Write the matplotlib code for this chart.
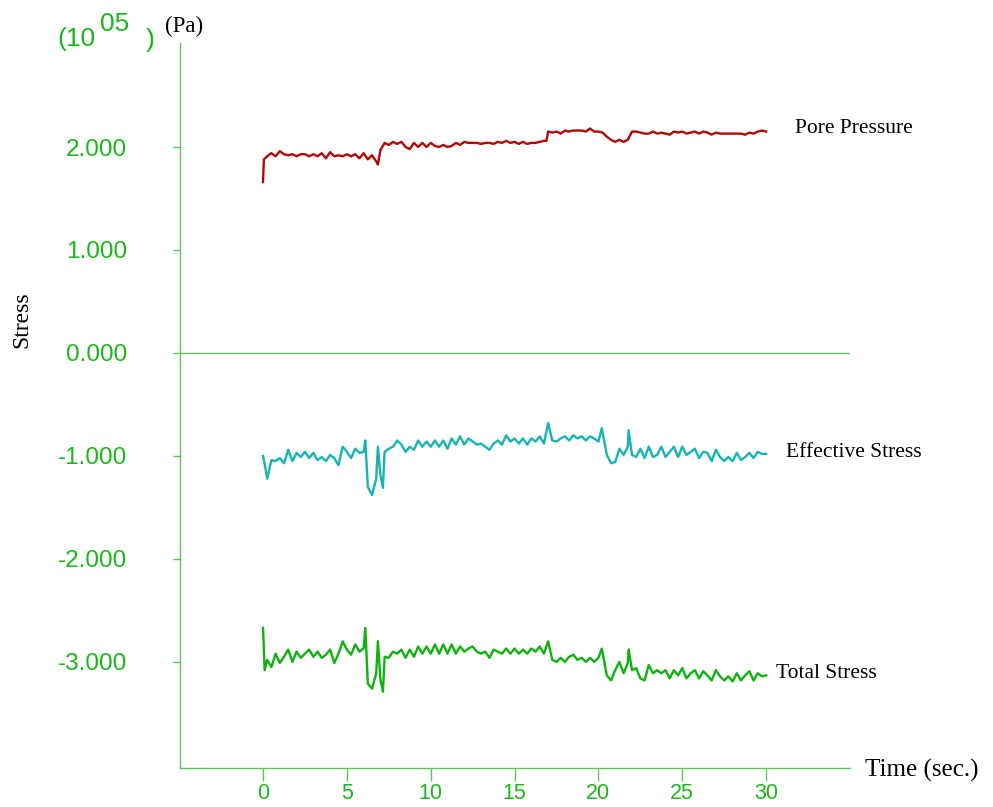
import matplotlib
matplotlib.use("Agg")
import matplotlib.pyplot as plt

# ---------------------------------------------------------------------------
# Data (stress in units of 10^5 Pa, time in seconds)
# ---------------------------------------------------------------------------
pore_time = [
    0.0, 0.05, 0.25, 0.5, 0.75,
    1.0, 1.25, 1.5, 1.75,
    2.0, 2.25, 2.5, 2.75,
    3.0, 3.25, 3.5, 3.75,
    4.0, 4.25, 4.5, 4.75,
    5.0, 5.25, 5.5, 5.75,
    6.0, 6.25, 6.5, 6.75, 6.85,
    7.0, 7.25, 7.5, 7.75,
    8.0, 8.25, 8.5, 8.75,
    9.0, 9.25, 9.5, 9.75,
    10.0, 10.25, 10.5, 10.75,
    11.0, 11.25, 11.5, 11.75,
    12.0, 12.25, 12.5, 12.75,
    13.0, 13.25, 13.5, 13.75,
    14.0, 14.25, 14.5, 14.75,
    15.0, 15.25, 15.5, 15.75,
    16.0, 16.25, 16.5, 16.75, 16.9,
    17.0, 17.25, 17.5, 17.75,
    18.0, 18.25, 18.5, 18.75,
    19.0, 19.25, 19.5, 19.75,
    20.0, 20.25, 20.5, 20.75,
    21.0, 21.25, 21.5, 21.75,
    22.0, 22.25, 22.5, 22.75,
    23.0, 23.25, 23.5, 23.75,
    24.0, 24.25, 24.5, 24.75,
    25.0, 25.25, 25.5, 25.75,
    26.0, 26.25, 26.5, 26.75,
    27.0, 27.25, 27.5, 27.75,
    28.0, 28.25, 28.5, 28.75,
    29.0, 29.25, 29.5, 29.75,
    30.0,
]
pore_pressure = [
    1.66, 1.88, 1.91, 1.94, 1.91,
    1.96, 1.93, 1.92, 1.93,
    1.91, 1.93, 1.93, 1.91,
    1.93, 1.91, 1.94, 1.89,
    1.95, 1.91, 1.92, 1.91,
    1.93, 1.91, 1.93, 1.89,
    1.94, 1.88, 1.92, 1.86, 1.83,
    1.97, 2.04, 2.02, 2.05,
    2.03, 2.05, 2.00, 1.98,
    2.04, 2.00, 2.04, 2.00,
    2.04, 2.01, 2.00, 2.02,
    2.00, 2.01, 2.04, 2.02,
    2.05, 2.04, 2.04, 2.04,
    2.03, 2.04, 2.04, 2.03,
    2.05, 2.04, 2.06, 2.04,
    2.05, 2.03, 2.05, 2.03,
    2.04, 2.04, 2.05, 2.06, 2.06,
    2.15, 2.14, 2.15, 2.13,
    2.16, 2.15, 2.16, 2.16,
    2.16, 2.15, 2.18, 2.15,
    2.15, 2.14, 2.10, 2.07,
    2.05, 2.07, 2.05, 2.07,
    2.15, 2.15, 2.14, 2.13,
    2.13, 2.15, 2.13, 2.14,
    2.13, 2.12, 2.15, 2.14,
    2.15, 2.13, 2.14, 2.15,
    2.13, 2.15, 2.14, 2.12,
    2.14, 2.13, 2.13, 2.13,
    2.13, 2.13, 2.13, 2.12,
    2.14, 2.13, 2.15, 2.16,
    2.15,
]

stress_time = [
    0.0, 0.1, 0.25, 0.5, 0.75,
    1.0, 1.25, 1.5, 1.75,
    2.0, 2.25, 2.5, 2.75,
    3.0, 3.25, 3.5, 3.75,
    4.0, 4.25, 4.5, 4.75,
    5.0, 5.25, 5.5, 5.75,
    6.0, 6.1, 6.25, 6.5, 6.75, 6.85,
    7.0, 7.15, 7.25, 7.5, 7.75,
    8.0, 8.25, 8.5, 8.75,
    9.0, 9.25, 9.5, 9.75,
    10.0, 10.25, 10.5, 10.75,
    11.0, 11.25, 11.5, 11.75,
    12.0, 12.25, 12.5, 12.75,
    13.0, 13.25, 13.5, 13.75,
    14.0, 14.25, 14.5, 14.75,
    15.0, 15.25, 15.5, 15.75,
    16.0, 16.25, 16.5, 16.75,
    17.0, 17.25, 17.5, 17.75,
    18.0, 18.25, 18.5, 18.75,
    19.0, 19.25, 19.5, 19.75,
    20.0, 20.2, 20.5, 20.75,
    21.0, 21.25, 21.5, 21.75, 21.8,
    22.0, 22.25, 22.5, 22.75,
    23.0, 23.25, 23.5, 23.75,
    24.0, 24.25, 24.5, 24.75,
    25.0, 25.25, 25.5, 25.75,
    26.0, 26.25, 26.5, 26.75,
    27.0, 27.25, 27.5, 27.75,
    28.0, 28.25, 28.5, 28.75,
    29.0, 29.25, 29.5, 29.75,
    30.0,
]
effective_stress = [
    -1.00, -1.08, -1.22, -1.04, -1.05,
    -1.02, -1.07, -0.94, -1.05,
    -0.97, -1.01, -0.96, -1.02,
    -0.97, -1.04, -1.01, -1.05,
    -0.99, -1.02, -1.09, -0.91,
    -0.96, -1.02, -0.93, -0.97,
    -0.96, -0.85, -1.30, -1.38, -1.22, -0.91,
    -1.18, -1.31, -0.96, -0.93, -0.91,
    -0.85, -0.89, -0.96, -0.91,
    -0.94, -0.85, -0.91, -0.86,
    -0.91, -0.85, -0.91, -0.85,
    -0.93, -0.83, -0.89, -0.81,
    -0.89, -0.83, -0.86, -0.89,
    -0.88, -0.91, -0.94, -0.88,
    -0.85, -0.89, -0.80, -0.86,
    -0.83, -0.88, -0.83, -0.89,
    -0.83, -0.86, -0.81, -0.88,
    -0.68, -0.85, -0.86, -0.83,
    -0.81, -0.85, -0.80, -0.83,
    -0.81, -0.85, -0.81, -0.83,
    -0.86, -0.73, -0.99, -1.07,
    -1.06, -0.93, -0.99, -0.91, -0.75,
    -0.99, -1.01, -0.93, -1.02,
    -0.91, -1.01, -0.99, -0.91,
    -1.01, -0.96, -0.91, -1.01,
    -0.91, -0.99, -0.96, -0.93,
    -1.02, -0.96, -0.97, -1.05,
    -0.94, -1.01, -1.05, -1.01,
    -1.05, -0.97, -1.04, -1.01,
    -0.97, -1.02, -0.96, -0.98,
    -0.98,
]
total_stress = [
    -2.67, -3.08, -2.98, -3.05, -2.92,
    -3.01, -2.95, -2.88, -3.00,
    -2.90, -2.96, -2.92, -2.88,
    -2.95, -2.90, -2.96, -2.93,
    -2.88, -3.01, -2.92, -2.80,
    -2.88, -2.93, -2.83, -2.90,
    -2.87, -2.67, -3.21, -3.26, -3.11, -2.80,
    -3.17, -3.29, -2.95, -2.96, -2.90,
    -2.92, -2.88, -2.96, -2.88,
    -2.95, -2.85, -2.92, -2.85,
    -2.92, -2.83, -2.92, -2.83,
    -2.92, -2.83, -2.92, -2.85,
    -2.90, -2.87, -2.85, -2.90,
    -2.92, -2.90, -2.96, -2.88,
    -2.90, -2.92, -2.87, -2.92,
    -2.87, -2.92, -2.88, -2.92,
    -2.87, -2.90, -2.85, -2.92,
    -2.80, -2.98, -3.00, -2.96,
    -3.00, -2.95, -2.93, -2.98,
    -2.96, -3.00, -2.96, -3.00,
    -2.96, -2.87, -3.13, -3.18,
    -3.08, -3.00, -3.11, -3.01, -2.88,
    -3.08, -3.06, -3.16, -3.18,
    -3.03, -3.11, -3.08, -3.11,
    -3.08, -3.16, -3.08, -3.13,
    -3.06, -3.16, -3.11, -3.08,
    -3.16, -3.09, -3.13, -3.18,
    -3.08, -3.14, -3.18, -3.14,
    -3.19, -3.11, -3.18, -3.13,
    -3.09, -3.18, -3.11, -3.14,
    -3.13,
]

x_ticks = [0, 5, 10, 15, 20, 25, 30]
y_ticks = [2, 1, 0, -1, -2, -3]
y_tick_labels = ["2.000", "1.000", "0.000", "-1.000", "-2.000", "-3.000"]

series_names = ["Pore Pressure", "Effective Stress", "Total Stress"]

# ---------------------------------------------------------------------------
# Styling
# ---------------------------------------------------------------------------
W, H = 993, 807
AXIS_GREEN = "#5cc65c"
LABEL_GREEN = "#18b818"
PORE_RED = "#b40808"
EFF_TEAL = "#17b4b4"
TOTAL_GREEN = "#0fb20f"
SANS = "Liberation Sans"
SERIF = "Liberation Serif"

fig = plt.figure(figsize=(W / 100, H / 100), dpi=100)
fig.patch.set_facecolor("white")

left_px, right_px, top_px, bottom_px = 180, 850, 43, 768
ax = fig.add_axes([left_px / W, 1 - bottom_px / H,
                   (right_px - left_px) / W, (bottom_px - top_px) / H])
ax.set_xlim(-4.95, 35.0)
ax.set_ylim(-4.03, 3.01)

for side in ("top", "right"):
    ax.spines[side].set_visible(False)
for side in ("left", "bottom"):
    ax.spines[side].set_color(AXIS_GREEN)
    ax.spines[side].set_linewidth(1.0)

ax.axhline(0, color=AXIS_GREEN, lw=1.0, zorder=1)

ax.plot(pore_time, pore_pressure, color=PORE_RED, lw=1.7, zorder=3)
ax.plot(stress_time, effective_stress, color=EFF_TEAL, lw=1.7, zorder=3)
ax.plot(stress_time, total_stress, color=TOTAL_GREEN, lw=1.7, zorder=3)

ax.set_xticks(x_ticks)
ax.set_xticklabels([str(v) for v in x_ticks])
ax.set_yticks(y_ticks)
ax.set_yticklabels(y_tick_labels)

ax.tick_params(axis="x", direction="out", length=9, width=1.0,
               color=AXIS_GREEN, labelcolor=LABEL_GREEN, labelsize=15.5, pad=2)
ax.tick_params(axis="y", direction="out", length=5, width=1.0,
               color=AXIS_GREEN, labelcolor=LABEL_GREEN, labelsize=17.5, pad=33)
for lab in ax.get_xticklabels() + ax.get_yticklabels():
    lab.set_fontfamily(SANS)

# Series names next to the end of each trace
label_pos = {
    "Pore Pressure": (31.7, 2.18),
    "Effective Stress": (31.2, -0.97),
    "Total Stress": (30.6, -3.11),
}
for name in series_names:
    x, y = label_pos[name]
    ax.text(x, y, name, family=SERIF, fontsize=15.5, color="black",
            ha="left", va="center", clip_on=False)


def fig_text(px, py, s, **kw):
    fig.text(px / W, 1 - py / H, s, **kw)


# Axis titles and unit annotations
fig_text(22, 320, "Stress", family=SERIF, fontsize=17, rotation=90,
         ha="center", va="center", color="black")
fig_text(865, 770, "Time (sec.)", family=SERIF, fontsize=18,
         ha="left", va="center", color="black")
fig_text(165, 26, "(Pa)", family=SERIF, fontsize=16.5,
         ha="left", va="center", color="black")
fig_text(57, 46, "(10", family=SANS, fontsize=19, color=LABEL_GREEN,
         ha="left", va="baseline")
fig_text(100, 31, "05", family=SANS, fontsize=19, color=LABEL_GREEN,
         ha="left", va="baseline")
fig_text(146, 47, ")", family=SANS, fontsize=19, color=LABEL_GREEN,
         ha="left", va="baseline")

fig.savefig("out.png", dpi=100, facecolor="white")
